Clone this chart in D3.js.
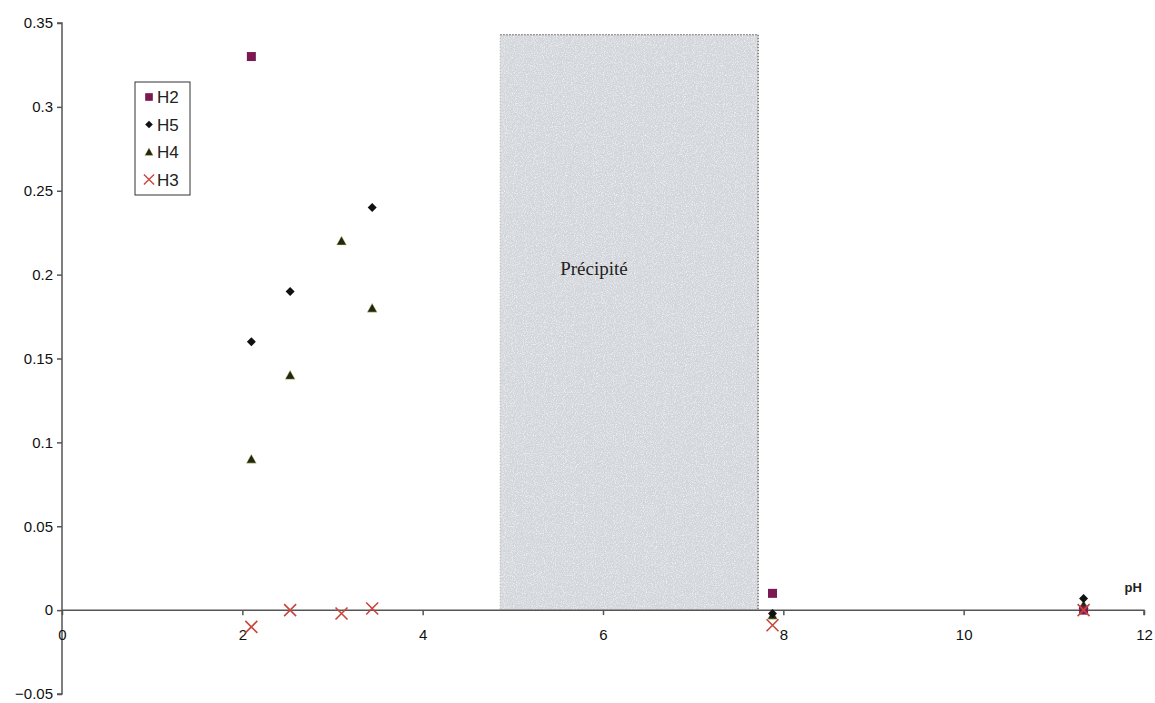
<!DOCTYPE html>
<html><head><meta charset="utf-8">
<script src="https://cdn.jsdelivr.net/npm/d3@7"></script>
<style>body{margin:0;background:#fff}svg{display:block}text{font-family:Arial,"Liberation Sans",sans-serif}</style>
</head><body>
<svg id="c" width="1155" height="703"></svg>
<script>
const H2 = [[2.1,0.33],[7.88,0.01],[11.33,0]];
const H5 = [[2.1,0.16],[2.53,0.19],[3.44,0.24],[7.88,-0.002],[11.33,0.007]];
const H4 = [[2.1,0.09],[2.53,0.14],[3.1,0.22],[3.44,0.18],[7.88,-0.003],[11.33,0.003]];
const H3 = [[2.1,-0.01],[2.53,0],[3.1,-0.002],[3.44,0.001],[7.88,-0.009],[11.33,0]];
const xTicks = [0,2,4,6,8,10,12];
const yTicks = [-0.05,0,0.05,0.1,0.15,0.2,0.25,0.3,0.35];
const precip = {x0:4.86, x1:7.72, top:0.343, label:"Précipité"};
const legendNames = ["H2","H5","H4","H3"];

const svg = d3.select("#c");
const x = d3.scaleLinear().domain([0,12]).range([62,1144]);
const y = d3.scaleLinear().domain([-0.05,0.35]).range([694,23]);

const defs = svg.append("defs");
const f = defs.append("filter").attr("id","noise").attr("x",0).attr("y",0).attr("width","100%").attr("height","100%");
f.append("feTurbulence").attr("type","fractalNoise").attr("baseFrequency",0.9).attr("numOctaves",2).attr("result","t");
f.append("feColorMatrix").attr("in","t").attr("type","matrix")
 .attr("values","0 0 0 0 1  0 0 0 0 1  0 0 0 0 1  0 0 0 -1.6 0.9").attr("result","n");
f.append("feComposite").attr("in","n").attr("in2","SourceGraphic").attr("operator","in").attr("result","m");
f.append("feMerge").selectAll("feMergeNode").data(["SourceGraphic","m"]).join("feMergeNode").attr("in",d=>d);

svg.append("rect")
 .attr("x",x(precip.x0)).attr("y",y(precip.top))
 .attr("width",x(precip.x1)-x(precip.x0)).attr("height",y(0)-y(precip.top))
 .attr("fill","#d2d5da").attr("filter","url(#noise)");
svg.append("path")
 .attr("d",`M${x(precip.x0)},${y(precip.top)}H${x(precip.x1)}V${y(0)}`)
 .attr("fill","none").attr("stroke","#555").attr("stroke-width",1.2).attr("stroke-dasharray","1.5,1.5");
svg.append("path")
 .attr("d",`M${x(precip.x0)},${y(precip.top)}V${y(0)}`)
 .attr("fill","none").attr("stroke","#bbb").attr("stroke-width",1).attr("stroke-dasharray","1.5,1.5");
svg.append("text").attr("x",x(5.9)).attr("y",y(0.2)).attr("text-anchor","middle")
 .style("font-family","'Liberation Serif','DejaVu Serif',serif").style("font-size","19px").attr("fill","#222")
 .text(precip.label);

const axisColor = "#555";
const yAxis = svg.append("g").attr("transform",`translate(${x(0)},0)`)
 .call(d3.axisLeft(y).tickValues(yTicks).tickSize(5).tickFormat(d=>d3.format("")(+d.toFixed(2))));
yAxis.select(".domain").attr("stroke",axisColor).attr("stroke-width",1.5).attr("d",`M-5,${y(0.35)}H0V${y(-0.05)}H-5`);
yAxis.selectAll(".tick line").attr("stroke",axisColor).attr("stroke-width",1.5);
yAxis.selectAll(".tick text").attr("x",-9).attr("fill","#111").style("font-size","15px").style("font-family","Arial,'Liberation Sans',sans-serif");

const xAxis = svg.append("g").attr("transform",`translate(0,${y(0)})`)
 .call(d3.axisBottom(x).tickValues(xTicks).tickSize(5).tickFormat(d3.format("d")));
xAxis.select(".domain").attr("stroke",axisColor).attr("stroke-width",1.5).attr("d",`M${x(0)},0H${x(12)}V5`);
xAxis.selectAll(".tick line").attr("stroke",axisColor).attr("stroke-width",1.5);
xAxis.selectAll(".tick text").attr("y",19).attr("fill","#111").style("font-size","15px").style("font-family","Arial,'Liberation Sans',sans-serif");
svg.append("text").attr("x",x(11.88)).attr("y",y(0.011)).attr("text-anchor","middle")
 .style("font-size","13px").style("font-weight","bold").attr("fill","#222").text("pH");

function sq(g){g.append("rect").attr("x",-4.5).attr("y",-4.5).attr("width",9).attr("height",9).attr("fill","#7b1a52");}
function dia(g){g.append("path").attr("d","M0,-4.5L4.5,0L0,4.5L-4.5,0Z").attr("fill","#111");}
function tri(g){g.append("path").attr("d","M0,-5L5,4L-5,4Z").attr("fill","#22280f").attr("stroke","#e8e6a0").attr("stroke-width",0.5);}
function cross(g){g.append("path").attr("d","M-6,-6L6,6M-6,6L6,-6").attr("stroke","#c9453d").attr("stroke-width",1.6).attr("fill","none");}
const series = [[H2,sq],[H5,dia],[H4,tri],[H3,cross]];
[[H4,tri],[H2,sq],[H5,dia],[H3,cross]].forEach(([data,fn])=>{
  svg.append("g").selectAll("g").data(data).join("g")
   .attr("transform",d=>`translate(${x(d[0])},${y(d[1])})`).each(function(){fn(d3.select(this));});
});

const lg = svg.append("g").attr("transform","translate(135,82)");
lg.append("rect").attr("width",55).attr("height",113).attr("fill","#fff").attr("stroke","#333").attr("stroke-width",1);
legendNames.forEach((n,i)=>{
  const gy = 15 + i*27.5;
  const g = lg.append("g").attr("transform",`translate(14,${gy}) scale(0.85)`);
  series[i][1](g);
  lg.append("text").attr("x",22).attr("y",gy+6).style("font-size","17px").attr("fill","#222").text(n);
});
</script>
</body></html>
